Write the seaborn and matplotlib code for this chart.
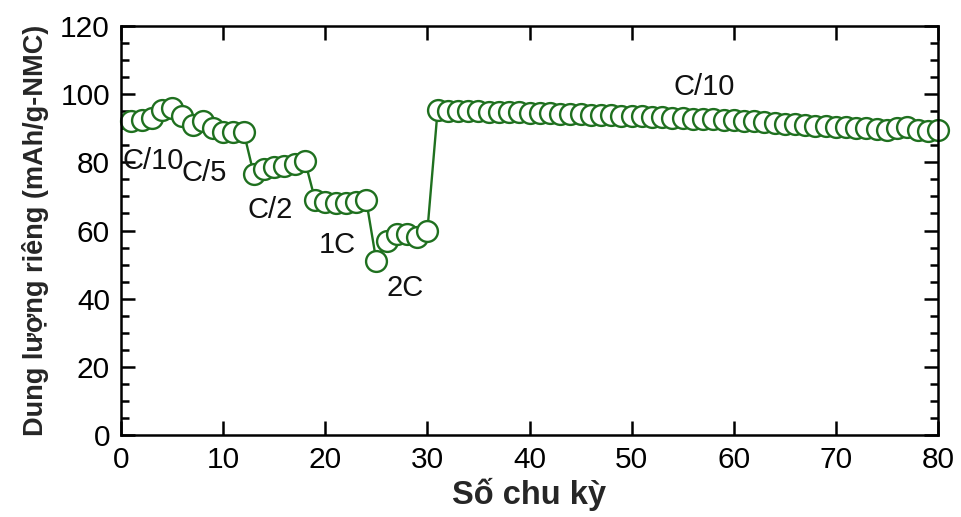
import numpy as np
import pandas as pd
import seaborn as sns
import matplotlib.pyplot as plt
from matplotlib.ticker import MultipleLocator

# số chu kỳ và dung lượng riêng cho từng chế độ dòng
cycles = list(range(1, 81))
cap_c10_a = [92, 92.5, 93, 95.5, 96, 93.5]
cap_c5 = [91, 92, 90, 89, 89, 89]
cap_c2 = [76.5, 78, 78.5, 79, 79.5, 80.5]
cap_1c = [69, 68.5, 68, 68, 68.5, 69]
cap_2c = [51, 57, 59, 59, 58, 60]
cap_c10_b = [95.3, 95.2, 95.1, 95.0, 95.0, 94.9, 94.8, 94.8, 94.7, 94.6,
             94.5, 94.4, 94.3, 94.2, 94.1, 94.0, 93.9, 93.8, 93.7, 93.6,
             93.5, 93.4, 93.2, 93.1, 93.0, 92.8, 92.7, 92.6, 92.4, 92.3,
             92.1, 92.0, 91.8, 91.6, 91.4, 91.2, 91.0, 90.8, 90.6, 90.4,
             90.3, 90.1, 90.0, 89.8, 89.6, 90.2, 90.4, 89.6, 89.2, 89.6]

rate_labels = ["C/10", "C/5", "C/2", "1C", "2C", "C/10"]
label_x = [3.1, 8.1, 14.6, 21.2, 27.8, 57.1]
label_y = [80.5, 77.0, 66.0, 55.7, 43.1, 102.1]

capacity = cap_c10_a + cap_c5 + cap_c2 + cap_1c + cap_2c + cap_c10_b
df = pd.DataFrame({'cycle': cycles, 'capacity': capacity})

sns.set_style("ticks")
plt.rcParams['font.family'] = ['Liberation Sans', 'DejaVu Sans']

green = '#1f701f'
fig = plt.figure(figsize=(9.61, 5.17), dpi=100)
ax = fig.add_axes([0.126, 0.1586, 0.85, 0.791])

sns.lineplot(data=df, x='cycle', y='capacity', ax=ax, color=green, linewidth=1.7,
             marker='o', markersize=15, markerfacecolor='white',
             markeredgecolor=green, markeredgewidth=1.7, clip_on=False)

for t, x, y in zip(rate_labels, label_x, label_y):
    ax.text(x, y, t, fontsize=21, ha='center', va='center', color='#111111')

ax.set_xlim(0, 80)
ax.set_ylim(0, 120)
ax.xaxis.set_major_locator(MultipleLocator(10))
ax.yaxis.set_major_locator(MultipleLocator(20))
ax.yaxis.set_minor_locator(MultipleLocator(5))
ax.tick_params(which='both', direction='in', top=True, right=True, width=1.8,
               labelsize=21.5, colors='black')
ax.tick_params(which='major', length=10, pad=8)
ax.tick_params(which='minor', length=6)
ax.tick_params(axis='x', which='minor', bottom=False, top=False)
for s in ax.spines.values():
    s.set_linewidth(1.8)
    s.set_color('black')

ax.set_xlabel('Số chu kỳ', fontsize=23.5, fontweight='bold', labelpad=3)
ax.set_ylabel('Dung lượng riêng (mAh/g-NMC)', fontsize=19.5, fontweight='bold',
              labelpad=8)

plt.savefig('out.png', dpi=100)
